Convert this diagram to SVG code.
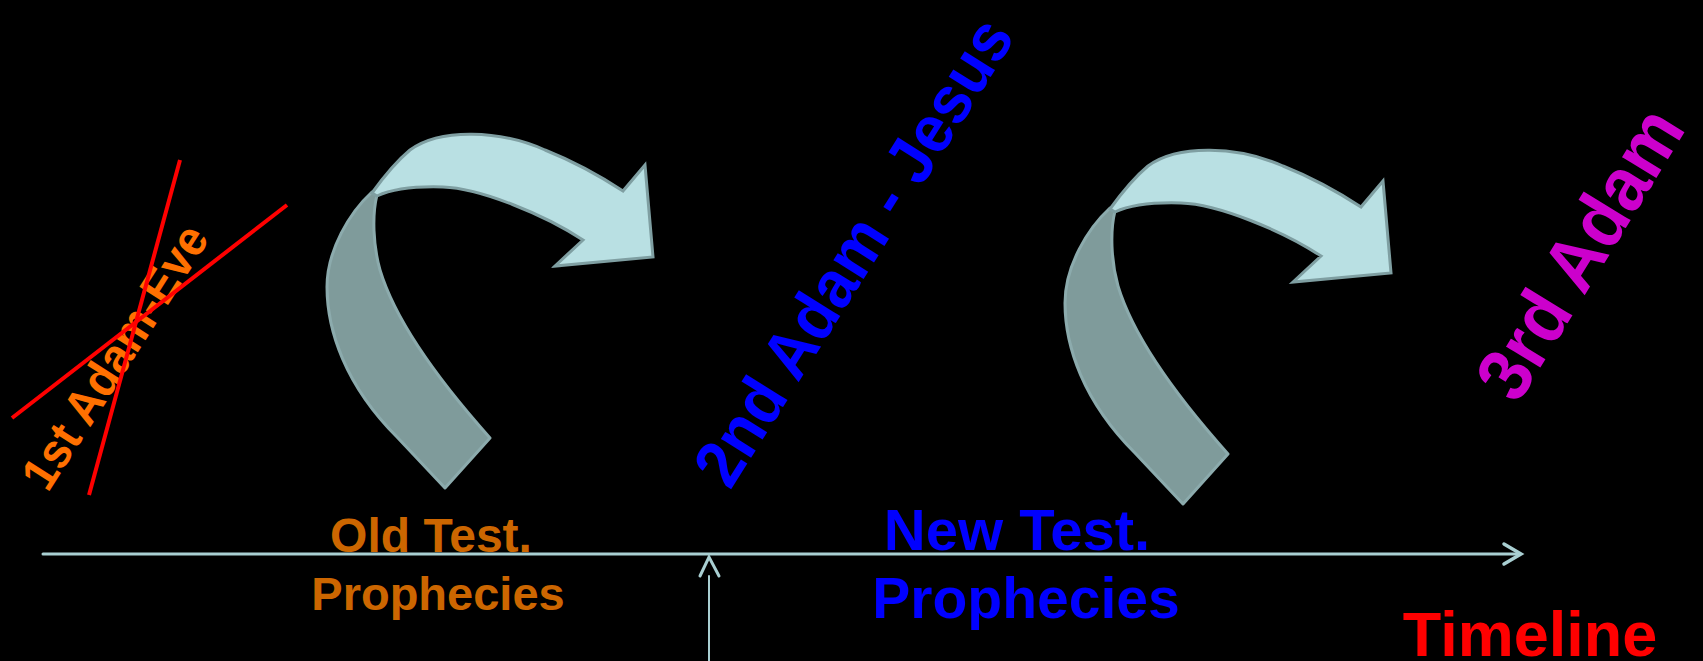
<svg xmlns="http://www.w3.org/2000/svg" width="1703" height="661" viewBox="0 0 1703 661">
<style>
text{font-family:"Liberation Sans",Arial,sans-serif;font-weight:bold;text-anchor:middle}
.dark{fill:#7f9b9b;stroke:#8cabad;stroke-width:3;stroke-linejoin:round}
.light{fill:#b9e0e3;stroke:#7f9fa2;stroke-width:3;stroke-linejoin:miter}
.tl{fill:none;stroke:#a9cfd2;stroke-linecap:round}
</style>
<rect width="1703" height="661" fill="#000"/>
<g id="connectors">
<line class="tl" x1="43" y1="554" x2="1518" y2="554" stroke-width="3"/>
<polyline class="tl" points="1504,544 1521,554 1504,564" stroke-width="3.5" stroke-linejoin="miter"/>
<line class="tl" x1="709" y1="576" x2="709" y2="661" stroke-width="2"/>
<polyline class="tl" points="700,576 709,557 719,576" stroke-width="3" stroke-linejoin="miter"/>
</g>
<g id="curved-arrow-1">
<path class="dark" d="M372,192 C350,212 327,250 327,287 C327,330 345,385 397,437 L445,488 L490,438 C440,382 395,320 380,270 C373,245 372,215 377,195 Z"/>
<path class="light" d="M372,193 C385,175 398,160 410,150 C440,128 500,130 545,150 C575,162 600,176 623,191 L645,165 L653,257 L555,266 L583,240 C545,215 480,188 443,187 C410,186 390,190 377,196 Z"/>
</g>
<g id="curved-arrow-2" transform="translate(738,16)">
<path class="dark" d="M372,192 C350,212 327,250 327,287 C327,330 345,385 397,437 L445,488 L490,438 C440,382 395,320 380,270 C373,245 372,215 377,195 Z"/>
<path class="light" d="M372,193 C385,175 398,160 410,150 C440,128 500,130 545,150 C575,162 600,176 623,191 L645,165 L653,257 L555,266 L583,240 C545,215 480,188 443,187 C410,186 390,190 377,196 Z"/>
</g>
<g id="first-adam">
<text transform="translate(129,366) rotate(-57.5) scale(1,1.07)" font-size="46" fill="#ff7000">1st Adam-Eve</text>
<line x1="180" y1="160" x2="89" y2="495" stroke="#ff0000" stroke-width="4"/>
<line x1="287" y1="205" x2="12" y2="418" stroke="#ff0000" stroke-width="4"/>
</g>
<g id="second-adam">
<text transform="translate(873,264) rotate(-57.8) scale(1,1.07)" font-size="63" fill="#0000ff">2nd Adam - Jesus</text>
</g>
<g id="third-adam">
<text transform="translate(1602,267) rotate(-58.5) scale(1,1.07)" font-size="71" fill="#cc00cc">3rd Adam</text>
</g>
<g id="old-test">
<text x="431" y="552" font-size="48" fill="#cc6600">Old Test.</text>
<text x="438" y="610" font-size="47" fill="#cc6600">Prophecies</text>
</g>
<g id="new-test">
<text x="1017" y="550" font-size="58" fill="#0000ff">New Test.</text>
<text x="1026" y="618" font-size="57" fill="#0000ff">Prophecies</text>
</g>
<g id="timeline">
<text x="1530" y="656" font-size="63" fill="#ff0000">Timeline</text>
</g>
</svg>
